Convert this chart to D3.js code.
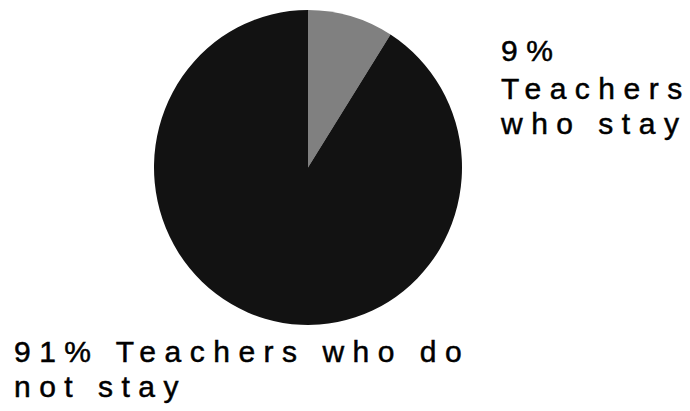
<!DOCTYPE html>
<html>
<head>
<meta charset="utf-8">
<script src="https://cdn.jsdelivr.net/npm/d3@7"></script>
<style>
  html, body { margin: 0; padding: 0; background: #fff; }
  svg { display: block; }
  text { font-family: "Liberation Sans", Arial, sans-serif; fill: #000; stroke: #000; stroke-width: 0.5px; }
</style>
</head>
<body>
<svg id="chart" width="690" height="411"></svg>
<script>
const categories = ["Teachers who stay", "Teachers who do not stay"];
const values = [9, 91];
const labelLines = [
  ["9%", "Teachers", "who stay"],
  ["91% Teachers who do", "not stay"]
];

const svg = d3.select("#chart");
const cx = 308, cy = 167.5, rx = 154, ry = 157.5;

const colors = d3.scaleOrdinal().domain(categories).range(["#808080", "#121212"]);

const pie = d3.pie().sort(null).value(d => d.value);
const arcs = pie(categories.map((c, i) => ({ cat: c, value: values[i] })));
const arc = d3.arc().innerRadius(0).outerRadius(ry);

const g = svg.append("g")
  .attr("transform", `translate(${cx},${cy}) scale(${rx / ry},1)`);

g.selectAll("path")
  .data(arcs)
  .join("path")
  .attr("d", arc)
  .attr("fill", d => colors(d.data.cat));

// labels
const labelPos = [
  { x: 501, ys: [61, 99, 134] },
  { x: 14, ys: [362, 397] }
];
labelLines.forEach((lines, i) => {
  const t = svg.append("text")
    .attr("font-size", 30)
    .attr("letter-spacing", 8.5);
  lines.forEach((ln, j) => {
    t.append("tspan")
      .attr("x", labelPos[i].x)
      .attr("y", labelPos[i].ys[j])
      .text(ln);
  });
});
</script>
</body>
</html>
